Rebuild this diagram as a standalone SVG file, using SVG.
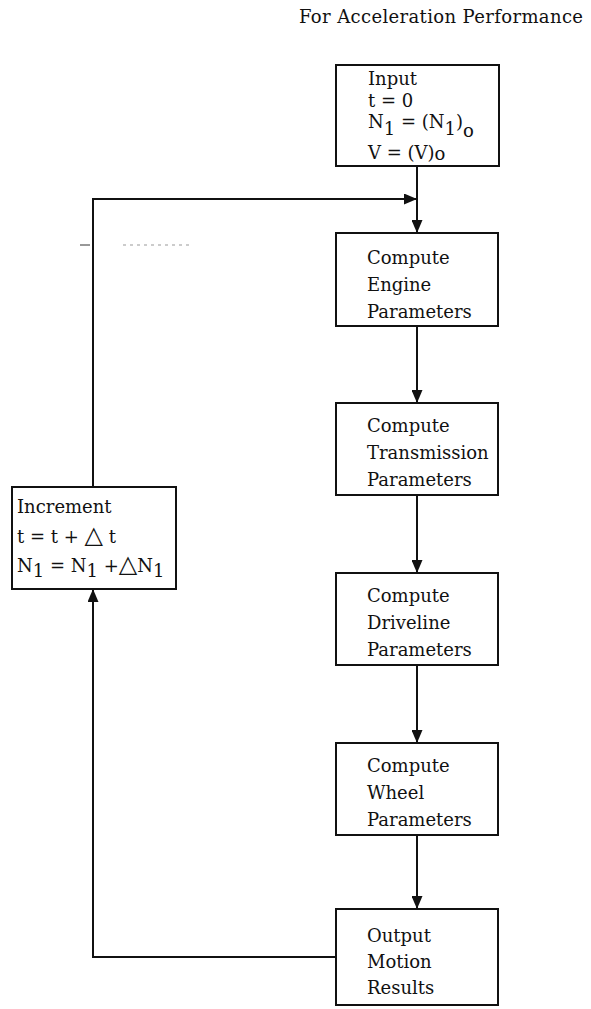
<svg xmlns="http://www.w3.org/2000/svg" width="591" height="1009" viewBox="0 0 591 1009">
<style>
text{font-family:"DejaVu Serif","Liberation Serif",serif;font-size:18px;fill:#111}
.box{fill:#fff;stroke:#111;stroke-width:2}
.ln{fill:none;stroke:#111;stroke-width:2}
.tri{font-family:"DejaVu Sans",sans-serif;font-size:24px}
</style>
<defs>
<marker id="ah" viewBox="0 0 13 11" refX="13" refY="5.5" markerWidth="13" markerHeight="11" markerUnits="userSpaceOnUse" orient="auto">
<path d="M0,0 L13,5.5 L0,11 Z" fill="#111"/>
</marker>
</defs>
<rect width="591" height="1009" fill="#fff"/>
<text id="title" x="299" y="23" textLength="284" lengthAdjust="spacing">For Acceleration Performance</text>
<g id="connectors">
<path class="ln" d="M417,166 V233" marker-end="url(#ah)"/>
<path class="ln" d="M93,487 V199 H417" marker-end="url(#ah)"/>
<path class="ln" d="M417,326 V403" marker-end="url(#ah)"/>
<path class="ln" d="M417,495 V573" marker-end="url(#ah)"/>
<path class="ln" d="M417,665 V743" marker-end="url(#ah)"/>
<path class="ln" d="M417,835 V909" marker-end="url(#ah)"/>
<path class="ln" d="M336,957 H93 V589" marker-end="url(#ah)"/>
<path d="M80,245 H90" stroke="#333" stroke-width="1"/>
<path d="M123,245 H192" stroke="#999" stroke-width="1" stroke-dasharray="3 4"/>
</g>
<g id="input">
<rect class="box" x="336" y="65" width="163" height="101"/>
<text x="368" y="85">Input</text>
<text x="368" y="107">t = 0</text>
<text x="368" y="128">N<tspan dy="7">1</tspan><tspan dy="-7"> = (N</tspan><tspan dy="7">1</tspan><tspan dy="-7">)</tspan><tspan dy="9">o</tspan></text>
<text x="368" y="159">V = (V)<tspan dy="1">o</tspan></text>
</g>
<g id="engine">
<rect class="box" x="336" y="233" width="162" height="93"/>
<text x="367" y="264">Compute</text>
<text x="367" y="291">Engine</text>
<text x="367" y="318">Parameters</text>
</g>
<g id="transmission">
<rect class="box" x="336" y="403" width="162" height="92"/>
<text x="367" y="432">Compute</text>
<text x="367" y="459">Transmission</text>
<text x="367" y="486">Parameters</text>
</g>
<g id="driveline">
<rect class="box" x="336" y="573" width="162" height="92"/>
<text x="367" y="602">Compute</text>
<text x="367" y="629">Driveline</text>
<text x="367" y="656">Parameters</text>
</g>
<g id="wheel">
<rect class="box" x="336" y="743" width="162" height="92"/>
<text x="367" y="772">Compute</text>
<text x="367" y="799">Wheel</text>
<text x="367" y="826">Parameters</text>
</g>
<g id="output">
<rect class="box" x="336" y="909" width="162" height="96"/>
<text x="367" y="942">Output</text>
<text x="367" y="968">Motion</text>
<text x="367" y="994">Results</text>
</g>
<g id="increment">
<rect class="box" x="12" y="487" width="164" height="102"/>
<text x="17" y="513">Increment</text>
<text x="17" y="543">t = t + <tspan class="tri">△</tspan> t</text>
<text x="17" y="572">N<tspan dy="5">1</tspan><tspan dy="-5"> = N</tspan><tspan dy="5">1</tspan><tspan dy="-5"> +</tspan><tspan class="tri">△</tspan>N<tspan dy="5">1</tspan></text>
</g>
</svg>
